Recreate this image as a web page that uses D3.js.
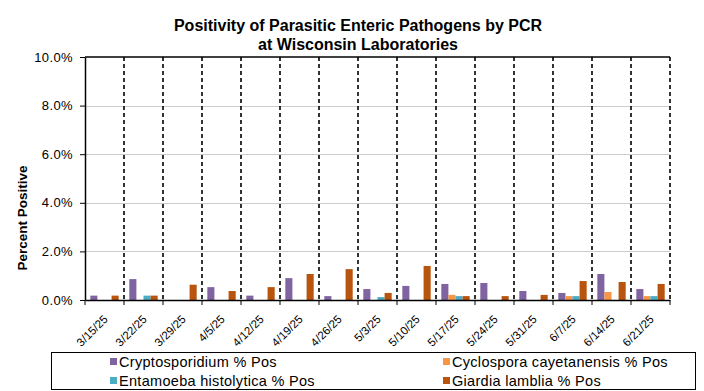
<!DOCTYPE html>
<html>
<head>
<meta charset="utf-8">
<script src="https://cdn.jsdelivr.net/npm/d3@7/dist/d3.min.js"></script>
<style>
  html, body { margin: 0; padding: 0; background: #fff; }
  svg { display: block; font-family: Arial, "Liberation Sans", sans-serif; }
</style>
</head>
<body>
<svg id="chart" width="704" height="391"></svg>
<script>
const categories = ["3/15/25","3/22/25","3/29/25","4/5/25","4/12/25","4/19/25","4/26/25","5/3/25","5/10/25","5/17/25","5/24/25","5/31/25","6/7/25","6/14/25","6/21/25"];
const seriesNames = ["Cryptosporidium % Pos","Cyclospora cayetanensis % Pos","Entamoeba histolytica % Pos","Giardia lamblia % Pos"];
const seriesColors = ["#8064A2","#F79646","#4BACC6","#B8540E"];
const cryptosporidium = [0.0018,0.0086,0,0.0053,0.0018,0.0090,0.0016,0.0045,0.0058,0.0066,0.0070,0.0037,0.0029,0.0107,0.0045];
const cyclospora      = [0,0,0,0,0,0,0,0,0,0.0021,0,0,0.0016,0.0033,0.0016];
const entamoeba       = [0,0.0018,0,0,0,0,0,0.0012,0,0.0016,0,0,0.0016,0,0.0016];
const giardia         = [0.0018,0.0018,0.0063,0.0037,0.0053,0.0107,0.0127,0.0029,0.0140,0.0016,0.0016,0.0021,0.0078,0.0074,0.0066];
const yTicks = [0,0.02,0.04,0.06,0.08,0.10];
const titleLines = ["Positivity  of Parasitic Enteric Pathogens by PCR","at Wisconsin Laboratories"];
const yLabel = "Percent Positive";

const series = [cryptosporidium, cyclospora, entamoeba, giardia];
const svg = d3.select("#chart");
const pLeft = 85, pRight = 670, pTop = 57, pBottom = 300;

const x = d3.scaleBand().domain(categories).range([pLeft, pRight]).paddingInner(0).paddingOuter(0);
const y = d3.scaleLinear().domain([0, 0.10]).range([pBottom, pTop]);
const bw = x.bandwidth() / 5.5;

// title
svg.append("g").selectAll("text").data(titleLines).join("text")
  .attr("x", 358).attr("y", (d,i) => 31 + i*19)
  .attr("text-anchor","middle").attr("font-weight","bold").attr("font-size","16px")
  .attr("fill","#000").text(d => d);

// horizontal gridlines
svg.append("g").selectAll("line").data(yTicks.filter(t => t > 0 && t < 0.1)).join("line")
  .attr("x1", pLeft).attr("x2", pRight).attr("y1", d => Math.round(y(d))+0.5).attr("y2", d => Math.round(y(d))+0.5)
  .attr("stroke","#cccccc").attr("stroke-width",1);

// top border
svg.append("line").attr("x1", pLeft).attr("x2", pRight).attr("y1", pTop).attr("y2", pTop)
  .attr("stroke","#000").attr("stroke-width",1.5);

// dashed vertical separators
const seps = categories.map((c,i) => i === 0 ? null : x(c)).filter(v => v !== null).concat([pRight]);
svg.append("g").selectAll("line").data(seps).join("line")
  .attr("x1", d => d).attr("x2", d => d).attr("y1", pTop).attr("y2", pBottom)
  .attr("stroke","#000").attr("stroke-width",1.6).attr("stroke-dasharray","4,3");

// bars
series.forEach((vals, si) => {
  svg.append("g").selectAll("rect").data(vals).join("rect")
    .attr("x", (d,i) => x(categories[i]) + 0.75*bw + si*bw)
    .attr("width", bw)
    .attr("y", d => y(d))
    .attr("height", d => pBottom - y(d))
    .attr("fill", seriesColors[si]);
});

// y axis
const yAxis = d3.axisLeft(y).tickValues(yTicks).tickFormat(d3.format(".1%")).tickSize(5).tickSizeOuter(0);
const gy = svg.append("g").attr("transform", `translate(${pLeft},0)`).call(yAxis);
gy.select(".domain").attr("stroke","#000").attr("stroke-width",1.5);
gy.selectAll(".tick line").attr("stroke","#000");
gy.selectAll(".tick text").attr("font-size","13px").attr("font-family","Arial, 'Liberation Sans', sans-serif")
  .attr("fill","#000").attr("x",-12).attr("letter-spacing","0.4px");

// x axis
const xAxis = d3.axisBottom(x).tickSize(0).tickSizeOuter(0);
const gx = svg.append("g").attr("transform", `translate(0,${pBottom})`).call(xAxis);
gx.select(".domain").attr("stroke","#000").attr("stroke-width",1.5);
gx.selectAll(".tick text")
  .attr("font-size","11.5px").attr("font-family","Arial, 'Liberation Sans', sans-serif").attr("fill","#000")
  .attr("text-anchor","end").attr("dy",null).attr("y",0)
  .attr("transform","translate(4,20) rotate(-45)");
// category boundary tick marks
svg.append("g").selectAll("line").data(seps.concat([pLeft])).join("line")
  .attr("x1", d => d).attr("x2", d => d).attr("y1", pBottom).attr("y2", pBottom+5)
  .attr("stroke","#000").attr("stroke-width",1);

// y label
svg.append("text").attr("transform","translate(27,218) rotate(-90)")
  .attr("text-anchor","middle").attr("font-weight","bold").attr("font-size","13.5px").text(yLabel);

// legend
svg.append("rect").attr("x",51.5).attr("y",352.5).attr("width",644).attr("height",37)
  .attr("fill","#fff").attr("stroke","#000").attr("stroke-width",1);
const legPos = [[110,362],[443,362],[110,381],[443,381]];
const lg = svg.append("g").selectAll("g").data(seriesNames).join("g")
  .attr("transform",(d,i) => `translate(${legPos[i][0]},${legPos[i][1]})`);
lg.append("rect").attr("x",0).attr("y",-4).attr("width",7).attr("height",7).attr("fill",(d,i) => seriesColors[i]);
lg.append("text").attr("x",9).attr("y",5).attr("font-size","14.5px").attr("letter-spacing","0.3px").attr("fill","#000").text(d => d);
</script>
</body>
</html>
